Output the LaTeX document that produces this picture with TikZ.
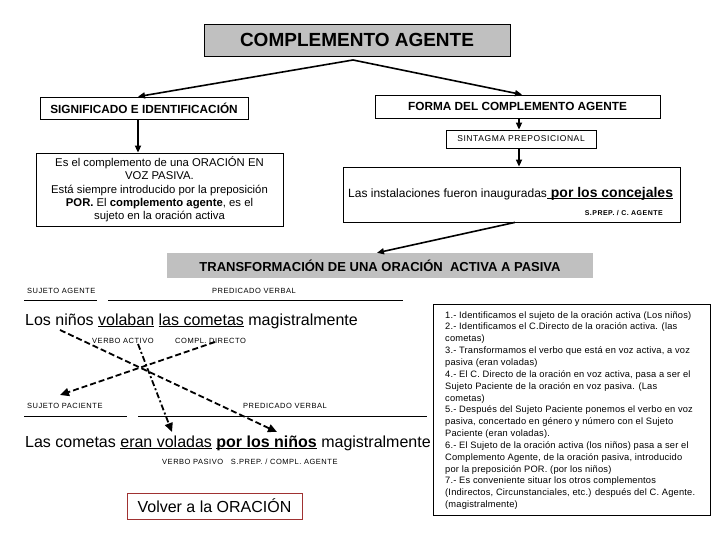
\documentclass[tikz,border=0pt]{standalone}
\usepackage{fontspec}
\setmainfont{Liberation Sans}
\newfontfamily\spaced[LetterSpace=7]{Liberation Sans}
\newfontfamily\lightspaced[LetterSpace=2]{Liberation Sans}
\usetikzlibrary{arrows.meta}
\definecolor{boxgray}{RGB}{192,192,192}
\definecolor{volred}{RGB}{160,50,50}
\newcommand\myul[2][0.9pt]{\setbox0\hbox{#2}\rlap{\rule[-2.2pt]{\wd0}{#1}}\box0\relax}
\begin{document}
\begin{tikzpicture}[x=1pt,y=-1pt,
  arr/.style={-{Triangle[length=7pt,width=6pt]}, line width=1.6pt},
  dsh/.style={-{Triangle[length=9pt,width=8pt]}, line width=1.8pt, dash pattern=on 6pt off 3pt},
  dshdot/.style={-{Triangle[length=9pt,width=8pt]}, line width=1.8pt, dash pattern=on 6pt off 2.5pt on 2pt off 2.5pt},
  box/.style={draw, line width=0.8pt, inner sep=0pt, align=center},
  small/.style={font=\spaced\fontsize{7.5}{9}\selectfont, inner sep=0pt},
  grp/.style={line width=0.8pt}
]
\useasboundingbox (0,0) rectangle (720,540);

% title
\node[box, fill=boxgray, minimum width=306pt, minimum height=32pt,
      font=\bfseries\fontsize{19}{22}\selectfont] (title) at (357,40) {COMPLEMENTO AGENTE};
\coordinate (apex) at (353,60);

% left branch
\node[box, minimum width=208pt, minimum height=22pt,
      font=\bfseries\fontsize{11.8}{14}\selectfont] (sig) at (144,108) {SIGNIFICADO E IDENTIFICACIÓN};
\node[box, minimum width=247pt, minimum height=73pt,
      font=\fontsize{11.3}{13.3}\selectfont] (desc) at (159.5,189.5)
  {Es el complemento de una ORACIÓN EN\\ VOZ PASIVA.\\ Está siempre introducido por la preposición\\ \textbf{POR.} El \textbf{complemento agente}, es el\\ sujeto en la oración activa};

% right branch
\node[box, minimum width=285pt, minimum height=23pt,
      font=\bfseries\fontsize{11.8}{14}\selectfont] (forma) at (517.5,106.5) {FORMA DEL COMPLEMENTO AGENTE};
\node[box, minimum width=150pt, minimum height=18pt,
      font=\spaced\fontsize{8.5}{10}\selectfont] (sint) at (521,139) {SINTAGMA PREPOSICIONAL};
\node[box, minimum width=337pt, minimum height=55pt] (sent) at (511.5,194.5) {};
\node[anchor=base west, inner sep=0pt, font=\fontsize{12}{14}\selectfont] (sentt) at (348,197)
  {Las instalaciones fueron inauguradas\myul[1.2pt]{\bfseries\fontsize{14}{16}\selectfont\ por los concejales}};
\node[small, anchor=base east, font=\spaced\bfseries\fontsize{7}{9}\selectfont] (sprep) at (663,215) {S.PREP. / C. AGENTE};

% connectors top
\draw[arr] (apex) -- ([xshift=-6pt]sig.north);
\draw[arr] (apex) -- ([xshift=4.5pt]forma.north);
\draw[arr] ([xshift=-6pt]sig.south) -- ([xshift=-6pt]sig.south |- desc.north);
\draw[arr] ([xshift=1.5pt]forma.south) -- ([xshift=1.5pt]forma.south |- sint.north);
\draw[arr] ([xshift=-2pt]sint.south) -- ([xshift=-2pt]sint.south |- sent.north);

% banner
\node[fill=boxgray, minimum width=426pt, minimum height=25pt, inner sep=0pt,
      font=\bfseries\fontsize{13}{15}\selectfont] (trans) at (380,265.5)
  {TRANSFORMACIÓN DE UNA ORACIÓN\ \ ACTIVA A PASIVA};
\draw[arr] ([xshift=3.5pt]sent.south) -- ([xshift=-3pt]trans.north);

% active sentence
\node[small, anchor=base west] (sa) at (27,293) {SUJETO AGENTE};
\draw[grp] (24,300) -- (97,300);
\node[small, anchor=base west] (pv1) at (212,293) {PREDICADO VERBAL};
\draw[grp] (108,300) -- (403,300);
\node[anchor=base west, inner sep=0pt, font=\fontsize{16}{19}\selectfont] (s1) at (25,325)
  {Los niños \myul{volaban} \myul{las cometas} magistralmente};
\node[small, anchor=base west] (va) at (92,343) {VERBO ACTIVO};
\node[small, anchor=base west] (cd) at (175,343) {COMPL. DIRECTO};

% passive sentence
\node[small, anchor=base west] (sp) at (27,408) {SUJETO PACIENTE};
\draw[grp] (24,416) -- (127,416);
\node[small, anchor=base west] (pv2) at (243,408) {PREDICADO VERBAL};
\draw[grp] (138,416) -- (427,416);
\node[anchor=base west, inner sep=0pt, font=\fontsize{16}{19}\selectfont] (s2) at (25,447)
  {Las cometas \myul{eran voladas} \myul[1.2pt]{\bfseries por los niños} magistralmente};
\node[small, anchor=base west] (vp) at (162,464) {VERBO PASIVO\ \ \ S.PREP. / COMPL. AGENTE};

% dashed arrows
\coordinate (ninos1) at (60,330);
\coordinate (porninos) at (277,432);
\coordinate (cdstart) at (215,342);
\coordinate (spend) at (60,395);
\coordinate (vastart) at (138,344);
\coordinate (vpend) at (172,432);
\draw[dsh] (ninos1) -- (porninos);
\draw[dsh] (cdstart) -- (spend);
\draw[dshdot] (vastart) -- (vpend);

% volver
\node[draw=volred, line width=0.9pt, minimum width=175pt, minimum height=26pt, inner sep=0pt,
      font=\fontsize{16}{19}\selectfont] (volver) at (214.5,506) {Volver a la ORACIÓN};

% explanation box
\node[box, minimum width=277pt, minimum height=211pt] (expl) at (571.5,409.5) {};
\node[anchor=north west, inner sep=0pt, align=left, font=\lightspaced\fontsize{9.3}{11.85}\selectfont] (explt) at (445,311)
{1.- Identificamos el sujeto de la oración activa (Los niños)\\
2.- Identificamos el C.Directo de la oración activa. (las\\
cometas)\\
3.- Transformamos el verbo que está en voz activa, a voz\\
pasiva (eran voladas)\\
4.- El C. Directo de la oración en voz activa, pasa a ser el\\
Sujeto Paciente de la oración en voz pasiva. (Las\\
cometas)\\
5.- Después del Sujeto Paciente ponemos el verbo en voz\\
pasiva, concertado en género y número con el Sujeto\\
Paciente (eran voladas).\\
6.- El Sujeto de la oración activa (los niños) pasa a ser el\\
Complemento Agente, de la oración pasiva, introducido\\
por la preposición POR. (por los niños)\\
7.- Es conveniente situar los otros complementos\\
(Indirectos, Circunstanciales, etc.) después del C. Agente.\\
(magistralmente)};
\end{tikzpicture}
\end{document}
